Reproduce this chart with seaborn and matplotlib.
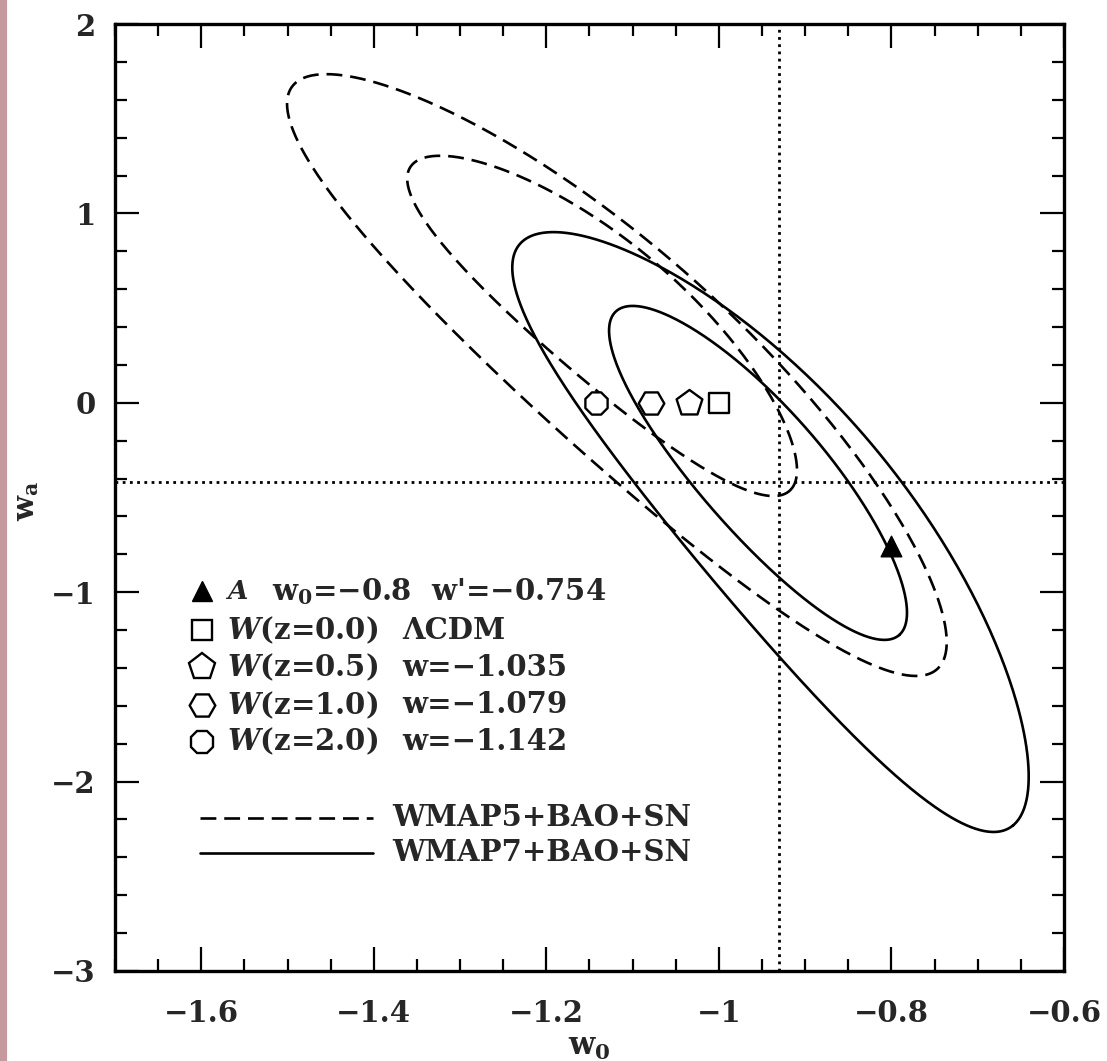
import numpy as np
import pandas as pd
import matplotlib
matplotlib.use("Agg")
import matplotlib.pyplot as plt
from matplotlib.patches import Rectangle
from matplotlib.ticker import FixedLocator, MultipleLocator, FixedFormatter
import seaborn as sns

# ---------------- data ----------------
# confidence contours: centre, semi-major / semi-minor axis vectors, banana bend
contour_survey = ["WMAP5+BAO+SN", "WMAP5+BAO+SN", "WMAP7+BAO+SN", "WMAP7+BAO+SN"]
contour_level = ["outer", "inner", "outer", "inner"]
center_w0 = [-1.119, -1.136, -0.943, -0.955]
center_wa = [0.141, 0.400, -0.688, -0.371]
major_w0 = [0.374, 0.220, 0.284, 0.164]
major_wa = [-1.538, -0.855, -1.543, -0.855]
minor_w0 = [-0.079, -0.051, -0.093, -0.054]
minor_wa = [-0.396, -0.273, -0.353, -0.215]
bend_w0 = [0.017, 0.012, 0.028, 0.0035]
bend_wa = [0.087, 0.064, 0.111, 0.014]

model_names = ["W(z=0.0)", "W(z=0.5)", "W(z=1.0)", "W(z=2.0)"]
model_desc = ["ΛCDM", "w=−1.035", "w=−1.079", "w=−1.142"]
model_w0 = [-1.0, -1.035, -1.079, -1.142]
model_wa = [0.0, 0.0, 0.0, 0.0]
model_markers = ["s", "p", "H", "8"]
model_sizes = [200, 380, 340, 300]

fid_w0 = [-0.8]
fid_wp = [-0.754]

best_w0 = -0.93
best_wa = -0.42

xticks = [-1.6, -1.4, -1.2, -1.0, -0.8, -0.6]
xticklabels = ["−1.6", "−1.4", "−1.2", "−1", "−0.8", "−0.6"]
yticks = [-3, -2, -1, 0, 1, 2]
yticklabels = ["−3", "−2", "−1", "0", "1", "2"]

# ---------------- style ----------------
sns.set_theme(style="ticks")
plt.rcParams["font.family"] = ["DejaVu Serif"]
plt.rcParams["font.weight"] = "bold"
plt.rcParams["mathtext.fontset"] = "dejavuserif"
plt.rcParams["mathtext.default"] = "bf"

W, H = 1107, 1061
fig = plt.figure(figsize=(W / 100, H / 100), dpi=100)
fig.patch.set_facecolor("white")
fig.patches.append(Rectangle((0, 0), 7 / W, 1, transform=fig.transFigure,
                             facecolor="#c49a9e", edgecolor="none", zorder=0))

ax = fig.add_axes([115 / W, (H - 971) / H, 949 / W, 947 / H])
ax.set_facecolor("white")

DASH = (6, 3)
t = np.linspace(0, 2 * np.pi, 600)
c, s = np.cos(t), np.sin(t)
for i in range(len(center_w0)):
    xs = center_w0[i] + major_w0[i] * c + minor_w0[i] * s + bend_w0[i] * s ** 2
    ys = center_wa[i] + major_wa[i] * c + minor_wa[i] * s + bend_wa[i] * s ** 2
    df = pd.DataFrame({"w0": xs, "wa": ys})
    sns.lineplot(data=df, x="w0", y="wa", sort=False, estimator=None,
                 color="black", linewidth=1.9, ax=ax, legend=False)
    if contour_survey[i].startswith("WMAP5"):
        ax.lines[-1].set_dashes(DASH)

# best-fit dotted cross
ax.axvline(best_w0, color="black", linewidth=2.0, linestyle=(0, (1, 1.6)))
ax.axhline(best_wa, color="black", linewidth=2.0, linestyle=(0, (1, 1.6)))

# models
for i in range(len(model_w0)):
    sns.scatterplot(x=[model_w0[i]], y=[model_wa[i]], marker=model_markers[i],
                    s=model_sizes[i], facecolor="white", edgecolor="black",
                    linewidth=1.7, ax=ax, legend=False, zorder=5)
sns.scatterplot(x=fid_w0, y=fid_wp, marker="^", s=220, color="black",
                edgecolor="black", linewidth=1, ax=ax, legend=False, zorder=5)

# axes
ax.set_xlim(-1.7, -0.6)
ax.set_ylim(-3, 2)
ax.xaxis.set_major_locator(FixedLocator(xticks))
ax.xaxis.set_major_formatter(FixedFormatter(xticklabels))
ax.yaxis.set_major_locator(FixedLocator(yticks))
ax.yaxis.set_major_formatter(FixedFormatter(yticklabels))
ax.xaxis.set_minor_locator(MultipleLocator(0.05))
ax.yaxis.set_minor_locator(MultipleLocator(0.2))
ax.tick_params(which="both", direction="in", top=True, right=True,
               color="black", width=1.6)
ax.tick_params(which="major", length=17)
ax.tick_params(which="minor", length=8.5)
ax.tick_params(axis="x", which="major", pad=20, labelsize=21)
ax.tick_params(axis="y", which="major", pad=14, labelsize=21)
for sp in ax.spines.values():
    sp.set_color("black")
    sp.set_linewidth(2.4)

ax.set_xlabel(r"$\mathbf{w_0}$", fontsize=22, labelpad=2)
ax.set_ylabel(r"$\mathbf{w_a}$", fontsize=21)
ax.yaxis.set_label_coords(-0.078, 0.497)

# ---------------- text legend ----------------
tr = ax.transAxes
FS = 21
row_y = [0.401, 0.360, 0.321, 0.281, 0.242]
mx = 0.092
ax.plot([mx], [row_y[0]], marker="^", ms=14, color="black", transform=tr, clip_on=False)
ax.text(0.129, row_y[0], "A", transform=tr, ha="center", va="center",
        fontsize=FS - 2, fontweight="bold", fontstyle="italic")
ax.text(0.165, row_y[0], r"w$_0$=−0.8  w'=−0.754", transform=tr, ha="left",
        va="center", fontsize=FS, fontweight="bold")
for i in range(len(model_names)):
    y = row_y[i + 1]
    ax.plot([mx], [y], marker=model_markers[i], ms=np.sqrt(model_sizes[i]),
            mfc="white", mec="black", mew=1.7, transform=tr, clip_on=False)
    ax.text(0.118, y, r"$\mathit{W}$" + model_names[i][1:], transform=tr, ha="left",
            va="center", fontsize=FS, fontweight="bold")
    ax.text(0.303, y, model_desc[i], transform=tr, ha="left", va="center",
            fontsize=FS, fontweight="bold")

leg_y = [0.162, 0.125]
surveys = ["WMAP5+BAO+SN", "WMAP7+BAO+SN"]
for j, y in enumerate(leg_y):
    ln, = ax.plot([0.0896, 0.272], [y, y], color="black", linewidth=1.9, transform=tr)
    if j == 0:
        ln.set_dashes(DASH)
    ax.text(0.292, y, surveys[j], transform=tr, ha="left", va="center",
            fontsize=FS, fontweight="bold")

fig.savefig("out.png", dpi=100)
